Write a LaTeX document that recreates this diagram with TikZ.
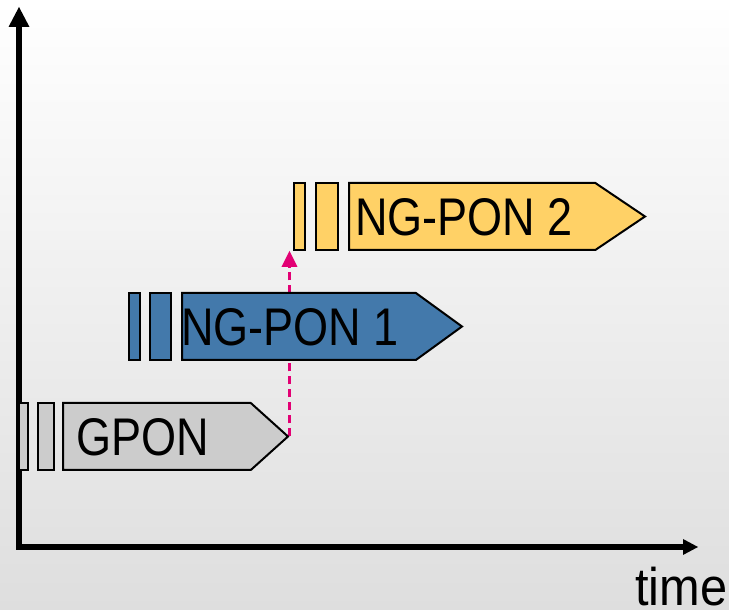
\documentclass[tikz,border=0pt]{standalone}
\usepackage{fontspec}
\setmainfont[FakeStretch=0.85]{Liberation Sans}
\newfontfamily\axisfont[FakeStretch=0.92]{Liberation Sans}
\usetikzlibrary{arrows.meta, positioning, shapes.symbols, backgrounds}
\definecolor{bggrey}{HTML}{DEDEDE}
\definecolor{gpongrey}{HTML}{CCCCCC}
\definecolor{ngoneblue}{HTML}{4379AB}
\definecolor{ngtwoyellow}{HTML}{FFD166}
\definecolor{telemagenta}{HTML}{E20074}
\tikzset{
  axis/.style={line width=6pt, line join=miter},
  stage/.style={signal, signal to=east, draw=black, line width=2pt,
    minimum height=67pt, inner sep=0pt, anchor=west},
  slot/.style={rectangle, draw=black, line width=2pt, minimum height=67pt, inner sep=0pt},
  stagelabel/.style={font=\fontsize{53}{60}\selectfont, inner sep=0pt, anchor=base west},
  migrate/.style={draw=telemagenta, line width=2.3pt, dash pattern=on 8pt off 5pt,
    -{Triangle[length=16pt, width=16pt, line width=0pt]}},
}

\begin{document}
\begin{tikzpicture}[x=1pt, y=1pt]
\useasboundingbox (0,0) rectangle (729,610);
\begin{scope}[on background layer]
  \fill[top color=white, bottom color=bggrey] (0,0) rectangle (729,610);
\end{scope}

% axes
\coordinate (origin) at (19,63);
\coordinate (ytop) at (19,603);
\coordinate (xend) at (698,63);
\draw[axis, {Triangle[length=20pt, width=21pt, line width=0pt]}-{Triangle[length=15pt, width=16pt, line width=0pt]}]
  (ytop) -- (origin) -- (xend);
\node[stagelabel, font=\axisfont\fontsize{53}{60}\selectfont] (timelbl) at (635,4) {time};

% GPON
\node[stage, fill=gpongrey, minimum width=225pt, signal pointer angle=84] (gpon) at (62,173.5) {};
\node[slot, fill=gpongrey, minimum width=16pt, left=7pt of gpon] (gponb) {};
\node[slot, fill=gpongrey, minimum width=9pt, left=8pt of gponb] (gpona) {};
\node[stagelabel] (gponlbl) at (76,154) {GPON};

% NG-PON 1
\node[stage, fill=ngoneblue, minimum width=280pt, signal pointer angle=72] (ngone) at (181,283.5) {};
\node[slot, fill=ngoneblue, minimum width=21pt, left=9pt of ngone] (ngoneb) {};
\node[slot, fill=ngoneblue, minimum width=11pt, left=8pt of ngoneb] (ngonea) {};
\node[stagelabel] (ngonelbl) at (181,264) {NG-PON 1};

% NG-PON 2
\node[stage, fill=ngtwoyellow, minimum width=296pt, signal pointer angle=68] (ngtwo) at (348,393.5) {};
\node[slot, fill=ngtwoyellow, minimum width=22pt, left=9pt of ngtwo] (ngtwob) {};
\node[slot, fill=ngtwoyellow, minimum width=11pt, left=9pt of ngtwob] (ngtwoa) {};
\node[stagelabel] (ngtwolbl) at (355,374) {NG-PON 2};

% upgrade path
\begin{scope}[on background layer]
  \draw[migrate] (gpon.east) -- (gpon.east |- ngtwoa.south);
\end{scope}
\end{tikzpicture}
\end{document}
